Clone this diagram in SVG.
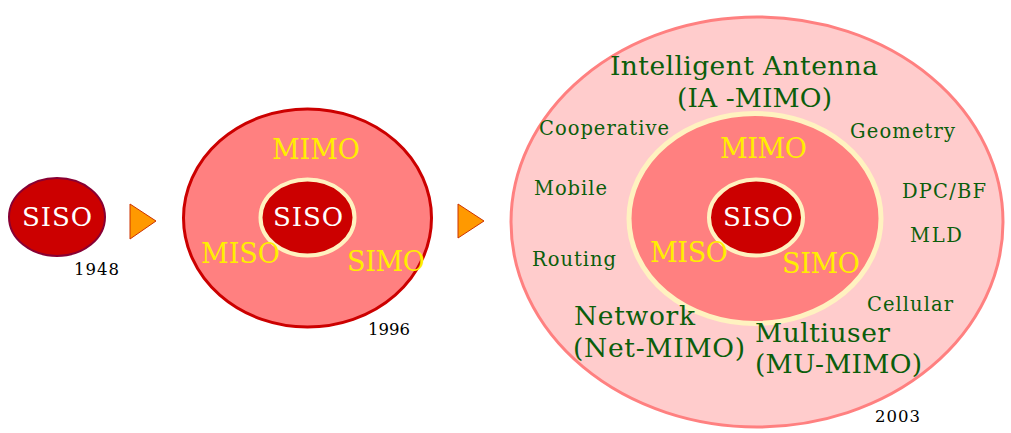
<svg xmlns="http://www.w3.org/2000/svg" width="1011" height="433" viewBox="0 0 1011 433">
<style>
text{font-family:"DejaVu Serif","Liberation Serif",serif}
.w{fill:#ffffff;font-size:26px}
.y{fill:#ffee00;font-size:27px}
.g{fill:#0b5e0b}
.gs{font-size:19.5px}
.gl{font-size:26.5px}
.k{fill:#000000;font-size:16.5px}
.tri{fill:#ff9900;stroke:#cc3300;stroke-width:1}
.core{fill:#cc0000;stroke:#fff2c0;stroke-width:4}
</style>
<rect width="1011" height="433" fill="#ffffff"/>
<g id="siso1948">
<ellipse cx="57" cy="217" rx="48" ry="39" fill="#cc0000" stroke="#880033" stroke-width="2"/>
<text class="w" x="57" y="226" text-anchor="middle" textLength="70">SISO</text>
<text class="k" x="74" y="275" textLength="45">1948</text>
</g>
<g id="connectors">
<polygon class="tri" points="130,204 156,221 130,239"/>
<polygon class="tri" points="458,204 484,221 458,238"/>
</g>
<g id="mimo1996">
<ellipse cx="307.5" cy="218" rx="124" ry="109" fill="#ff8080" stroke="#cc0000" stroke-width="3"/>
<ellipse class="core" cx="307.5" cy="217.5" rx="47" ry="38"/>
<text class="w" x="273" y="226" textLength="70">SISO</text>
<text class="y" x="272" y="159" textLength="88">MIMO</text>
<text class="y" x="201" y="263" textLength="79">MISO</text>
<text class="y" x="347" y="271" textLength="78">SIMO</text>
<text class="k" x="368" y="335" textLength="42">1996</text>
</g>
<g id="mimo2003">
<ellipse cx="757" cy="222" rx="246" ry="205" fill="#ffcccc" stroke="#ff8080" stroke-width="3"/>
<ellipse cx="755" cy="218.5" rx="126" ry="105" fill="#ff8080" stroke="#fff2c0" stroke-width="5"/>
<ellipse class="core" cx="756" cy="217.5" rx="47" ry="38"/>
<text class="w" x="723" y="226" textLength="70">SISO</text>
<text class="y" x="720" y="158" textLength="87">MIMO</text>
<text class="y" x="650" y="262" textLength="78">MISO</text>
<text class="y" x="782" y="273" textLength="78">SIMO</text>
<text class="g gl" x="610" y="75" textLength="268">Intelligent Antenna</text>
<text class="g gl" x="677" y="107" textLength="155">(IA -MIMO)</text>
<text class="g gs" x="539" y="135" textLength="130">Cooperative</text>
<text class="g gs" x="850" y="138" textLength="105">Geometry</text>
<text class="g gs" x="534" y="195" textLength="73">Mobile</text>
<text class="g gs" x="902" y="198" textLength="84">DPC/BF</text>
<text class="g gs" x="910" y="242" textLength="52">MLD</text>
<text class="g gs" x="532" y="266" textLength="84">Routing</text>
<text class="g gs" x="867" y="311" textLength="86">Cellular</text>
<text class="g gl" x="574" y="325" textLength="121">Network</text>
<text class="g gl" x="573" y="357" textLength="172">(Net-MIMO)</text>
<text class="g gl" x="755" y="342" textLength="135">Multiuser</text>
<text class="g gl" x="755" y="373" textLength="167">(MU-MIMO)</text>
<text class="k" x="875" y="422" textLength="45">2003</text>
</g>
</svg>
